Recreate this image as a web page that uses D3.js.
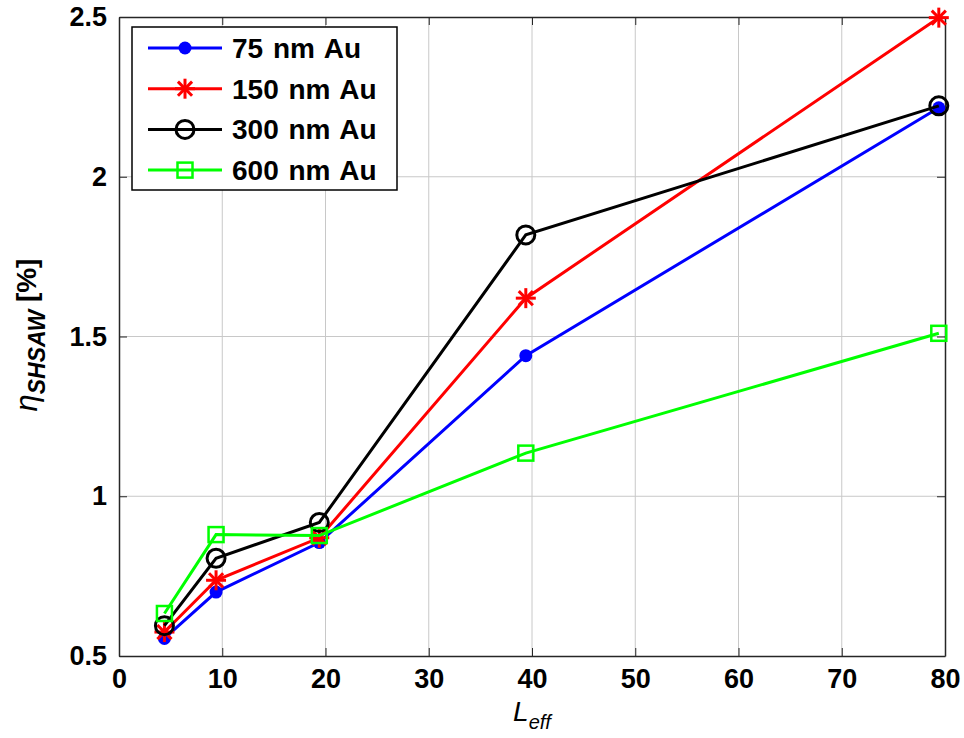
<!DOCTYPE html>
<html><head><meta charset="utf-8">
<script src="https://cdn.jsdelivr.net/npm/d3@7"></script>
<style>body{margin:0;background:#fff}svg{display:block}</style>
</head><body><div id="chart"></div>
<script>
const xValues = [4.4, 9.4, 19.4, 39.4, 79.4];
const s75 = [0.555, 0.70, 0.855, 1.44, 2.216];
const s150 = [0.575, 0.737, 0.87, 1.62, 2.498];
const s300 = [0.595, 0.806, 0.918, 1.818, 2.222];
const s600 = [0.633, 0.88, 0.877, 1.135, 1.51];
const seriesNames = ["75 nm Au", "150 nm Au", "300 nm Au", "600 nm Au"];
const seriesColors = ["#0000ff", "#ff0000", "#000000", "#00ff00"];
const seriesMarkers = ["dot", "star", "circle", "square"];
const xTicks = [0, 10, 20, 30, 40, 50, 60, 70, 80];
const yTicks = [0.5, 1, 1.5, 2, 2.5];
const yTickLabels = ["0.5", "1", "1.5", "2", "2.5"];

const W = 964, H = 738;
const L = 119, R = 945, T = 17, B = 656;
const svg = d3.select("#chart").append("svg").attr("width", W).attr("height", H);
const x = d3.scaleLinear().domain([0, 80]).range([L, R]);
const y = d3.scaleLinear().domain([0.5, 2.5]).range([B, T]);

// grid
const grid = svg.append("g").attr("stroke", "#c8c8c8").attr("stroke-width", 1);
xTicks.slice(1, -1).forEach(t => grid.append("line").attr("x1", x(t)).attr("x2", x(t)).attr("y1", T).attr("y2", B));
yTicks.slice(1, -1).forEach(t => grid.append("line").attr("y1", y(t)).attr("y2", y(t)).attr("x1", L).attr("x2", R));

// axes
const font = "'Liberation Sans', Arial, sans-serif";
const xAxis = d3.axisBottom(x).tickValues(xTicks).tickSizeInner(-8).tickSizeOuter(0).tickPadding(13);
const gx = svg.append("g").attr("transform", `translate(0,${B})`).call(xAxis);
const xAxisTop = d3.axisTop(x).tickValues(xTicks).tickSizeInner(-8).tickSizeOuter(0).tickFormat("");
svg.append("g").attr("transform", `translate(0,${T})`).call(xAxisTop);
const yAxis = d3.axisLeft(y).tickValues(yTicks).tickFormat((d, i) => yTickLabels[i]).tickSizeInner(-8).tickSizeOuter(0).tickPadding(12);
const gy = svg.append("g").attr("transform", `translate(${L},0)`).call(yAxis);
const yAxisRight = d3.axisRight(y).tickValues(yTicks).tickSizeInner(-8).tickSizeOuter(0).tickFormat("");
svg.append("g").attr("transform", `translate(${R},0)`).call(yAxisRight);
svg.selectAll(".domain").attr("stroke", "#262626").attr("stroke-width", 1.5);
svg.selectAll(".tick line").attr("stroke", "#262626").attr("stroke-width", 1);
svg.selectAll(".tick text").attr("font-family", font).attr("font-weight", "bold").attr("font-size", 27).attr("fill", "#000");
gx.selectAll(".tick text").attr("dy", "0.71em");

// axis labels
const xl = svg.append("text").attr("x", x(40)).attr("y", 721).attr("text-anchor", "middle")
  .attr("font-family", font).attr("font-size", 28).attr("font-style", "italic");
xl.append("tspan").text("L");
xl.append("tspan").attr("font-size", 20).attr("dy", 8).text("eff");

const yl = svg.append("text").attr("transform", `translate(37,335) rotate(-90)`).attr("text-anchor", "middle")
  .attr("font-family", font).attr("font-size", 31);
yl.append("tspan").attr("font-style", "italic").text("η");
yl.append("tspan").attr("font-style", "italic").attr("font-weight", "bold").attr("font-size", 23).attr("dy", 8).text("SHSAW");
yl.append("tspan").attr("font-weight", "bold").attr("font-size", 28).attr("dy", -9).text(" [%]");

// markers
function drawMarker(g, type, color, cx, cy) {
  if (type === "dot") {
    g.append("circle").attr("cx", cx).attr("cy", cy).attr("r", 6.5).attr("fill", color);
  } else if (type === "circle") {
    g.append("circle").attr("cx", cx).attr("cy", cy).attr("r", 9).attr("fill", "none").attr("stroke", color).attr("stroke-width", 3);
  } else if (type === "square") {
    g.append("rect").attr("x", cx - 7.5).attr("y", cy - 7.5).attr("width", 15).attr("height", 15).attr("fill", "none").attr("stroke", color).attr("stroke-width", 2.5);
  } else if (type === "star") {
    const r = 10;
    [0, 45, 90, 135].forEach(a => {
      const rad = a * Math.PI / 180;
      g.append("line").attr("x1", cx - r * Math.cos(rad)).attr("y1", cy - r * Math.sin(rad))
        .attr("x2", cx + r * Math.cos(rad)).attr("y2", cy + r * Math.sin(rad))
        .attr("stroke", color).attr("stroke-width", 3);
    });
  }
}

const allSeries = [s75, s150, s300, s600];
const line = d3.line().x(d => x(d[0])).y(d => y(d[1]));
allSeries.forEach((vals, i) => {
  const pts = xValues.map((xv, j) => [xv, vals[j]]);
  const g = svg.append("g");
  g.append("path").attr("d", line(pts)).attr("fill", "none").attr("stroke", seriesColors[i]).attr("stroke-width", 3);
  pts.forEach(p => drawMarker(g, seriesMarkers[i], seriesColors[i], x(p[0]), y(p[1])));
});

// legend
const lg = svg.append("g");
lg.append("rect").attr("x", 132).attr("y", 27).attr("width", 265).attr("height", 163).attr("fill", "#fff").attr("stroke", "#000").attr("stroke-width", 1.5);
seriesNames.forEach((n, i) => {
  const ly = 48 + i * 40.7;
  lg.append("line").attr("x1", 148).attr("x2", 222).attr("y1", ly).attr("y2", ly).attr("stroke", seriesColors[i]).attr("stroke-width", 3);
  drawMarker(lg, seriesMarkers[i], seriesColors[i], 185, ly);
  lg.append("text").attr("x", 232).attr("y", ly).attr("dy", "0.36em").attr("font-family", font).attr("font-weight", "bold")
    .attr("font-size", 28).attr("word-spacing", 2).text(n);
});
</script></body></html>
